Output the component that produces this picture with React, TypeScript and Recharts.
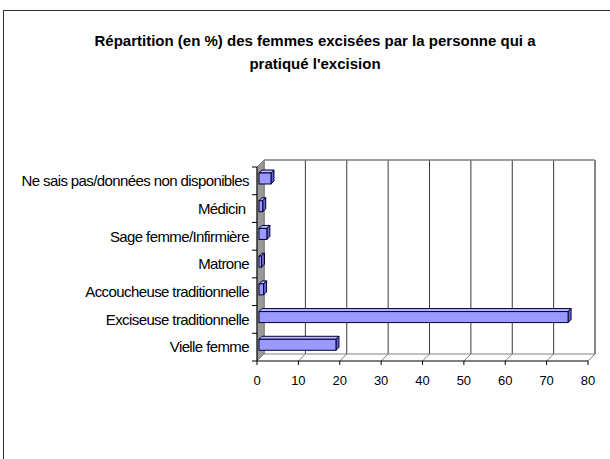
import React from 'react';
import { BarChart, Bar, XAxis, YAxis, CartesianGrid, ReferenceArea } from 'recharts';

const categories = [
  'Ne sais pas/données non disponibles',
  'Médicin ',
  'Sage femme/Infirmière',
  'Matrone',
  'Accoucheuse traditionnelle',
  'Exciseuse traditionnelle',
  'Vielle femme',
];
const values = [2.9, 0.9, 1.9, 0.6, 1.1, 74.7, 18.6];
const xTicks = [0, 10, 20, 30, 40, 50, 60, 70, 80];
const titleLines = ['Répartition (en %) des femmes excisées par la personne qui a', "pratiqué l'excision"];

const data = categories.map((name, i) => ({ name, value: values[i] }));

const FONT = '"Liberation Sans", Arial, sans-serif';
const D = 7; // wall depth
const BO = 2; // bar offset into depth
const BD = 3; // bar depth

const renderVLine = (p: any) => {
  const x = p.x1;
  const top = Math.min(p.y1, p.y2);
  const bot = Math.max(p.y1, p.y2);
  return (
    <g key={p.key ?? `v-${x}`}>
      <line x1={x + D} y1={top - D} x2={x + D} y2={bot - D} stroke="#3a3a3a" strokeWidth={1} />
      <line x1={x} y1={bot} x2={x + D} y2={bot - D} stroke="#808080" strokeWidth={1} />
    </g>
  );
};

const renderBox = (p: any) => {
  const { x, y, width, height } = p;
  const L = x, R = x + width, T = y, B = y + height;
  const n = categories.length;
  const ticks = [];
  for (let i = 0; i <= n; i++) {
    const ty = T + (i * height) / n;
    ticks.push(<line key={i} x1={L - 5} y1={ty} x2={L} y2={ty} stroke="#000" strokeWidth={1} />);
  }
  return (
    <g>
      <polygon points={`${L},${T} ${L + D},${T - D} ${L + D},${B - D} ${L},${B}`} fill="#999999" stroke="#808080" strokeWidth={1} />
      <line x1={L + D} y1={T - D} x2={R + D} y2={T - D} stroke="#808080" strokeWidth={1.5} />
      <line x1={R + D} y1={T - D} x2={R + D} y2={B - D} stroke="#808080" strokeWidth={1.5} />
      <line x1={L + D} y1={B - D} x2={R + D} y2={B - D} stroke="#808080" strokeWidth={1} />
      <line x1={R} y1={B} x2={R + D} y2={B - D} stroke="#808080" strokeWidth={1} />
      <line x1={L} y1={T} x2={L} y2={B} stroke="#000" strokeWidth={1} />
      {ticks}
    </g>
  );
};

const Bar3D = (p: any) => {
  const { x, y, width, height } = p;
  if (width == null || height == null) return <g />;
  const fx = x + BO;
  const fy = y - BO;
  const w = Math.max(width, 0);
  return (
    <g>
      <polygon
        points={`${fx},${fy} ${fx + BD},${fy - BD} ${fx + w + BD},${fy - BD} ${fx + w},${fy}`}
        fill="#b8b8ff"
        stroke="#000033"
        strokeWidth={1}
      />
      <polygon
        points={`${fx + w},${fy} ${fx + w + BD},${fy - BD} ${fx + w + BD},${fy - BD + height} ${fx + w},${fy + height}`}
        fill="#6666cc"
        stroke="#000033"
        strokeWidth={1}
      />
      <rect x={fx} y={fy} width={w} height={height} fill="#9999ff" stroke="#000033" strokeWidth={1} />
    </g>
  );
};

const YTick = (p: any) => (
  <text
    x={p.x}
    y={p.y}
    dy="0.35em"
    textAnchor="end"
    fontFamily={FONT}
    fontSize={15}
    letterSpacing={-0.6}
    fill="#000"
    style={{ whiteSpace: 'pre' }}
  >
    {p.payload.value}
  </text>
);

const XTick = (p: any) => (
  <text x={p.x} y={p.y} dy="0.71em" textAnchor="middle" fontFamily={FONT} fontSize={13} fill="#000">
    {p.payload.value}
  </text>
);

export default function App() {
  return (
    <div style={{ position: 'absolute', left: 0, top: 0, width: 610, height: 459, overflow: 'hidden', background: '#fff' }}>
      <div
        style={{
          position: 'absolute',
          left: 3,
          top: 10,
          width: 650,
          height: 520,
          border: '1.5px solid #333',
          boxSizing: 'border-box',
        }}
      />
      <div
        style={{
          position: 'absolute',
          left: 0,
          top: 29,
          width: 630,
          textAlign: 'center',
          fontFamily: FONT,
          fontWeight: 'bold',
          fontSize: 15,
          lineHeight: '23px',
          color: '#000',
        }}
      >
        {titleLines.map((t) => (
          <div key={t}>{t}</div>
        ))}
      </div>
      <div style={{ position: 'absolute', left: 0, top: 0 }}>
        <BarChart
          width={610}
          height={459}
          data={data}
          layout="vertical"
          margin={{ top: 167, right: 22, left: 0, bottom: 68 }}
          barSize={11}
        >
          <CartesianGrid horizontal={false} vertical={renderVLine} />
          <ReferenceArea x1={0} x2={80} ifOverflow="visible" shape={renderBox} />
          <XAxis
            type="number"
            domain={[0, 80]}
            ticks={xTicks}
            interval={0}
            height={30}
            axisLine={{ stroke: '#000' }}
            tickLine={{ stroke: '#000' }}
            tickSize={4}
            tickMargin={11}
            tick={XTick}
          />
          <YAxis
            type="category"
            dataKey="name"
            width={257}
            axisLine={false}
            tickLine={false}
            tickSize={0}
            tickMargin={8}
            interval={0}
            tick={YTick}
          />
          <Bar dataKey="value" isAnimationActive={false} shape={Bar3D} />
        </BarChart>
      </div>
    </div>
  );
}
